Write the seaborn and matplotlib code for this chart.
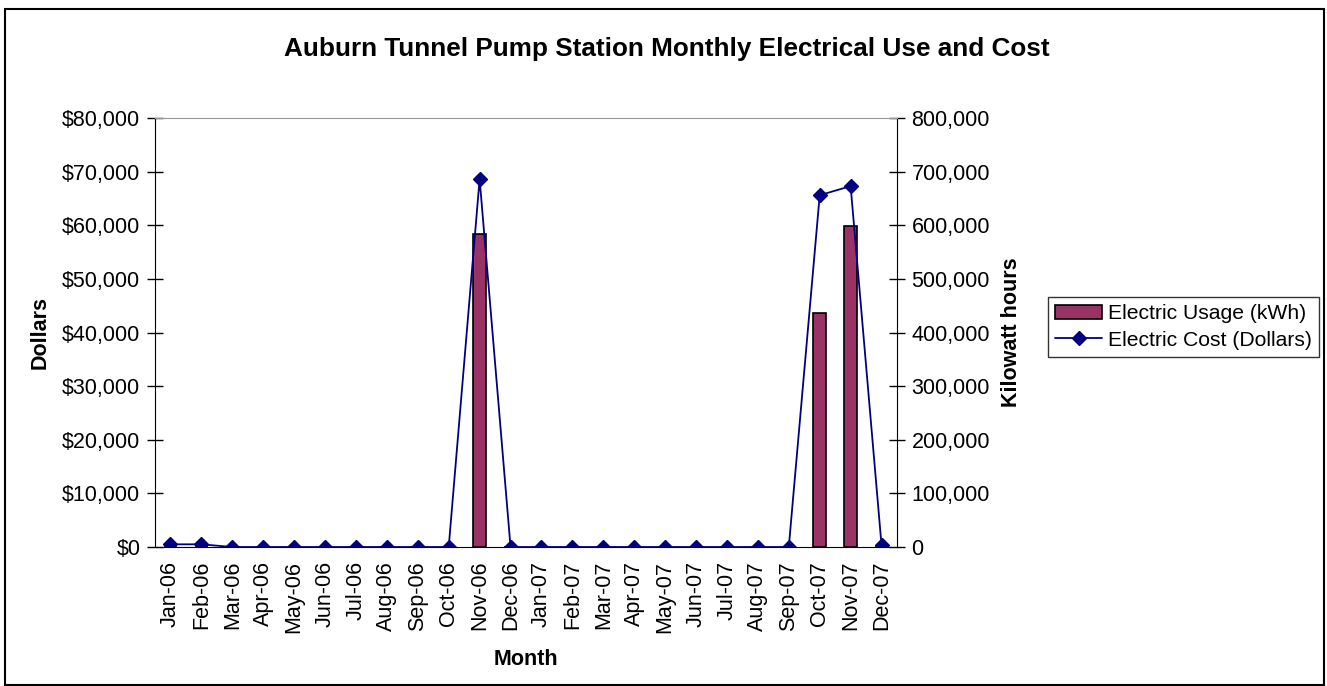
import matplotlib
matplotlib.use('Agg')
import matplotlib.pyplot as plt
import seaborn as sns
from matplotlib.patches import Rectangle
from matplotlib.ticker import FuncFormatter, MultipleLocator

months = ['Jan-06', 'Feb-06', 'Mar-06', 'Apr-06', 'May-06', 'Jun-06', 'Jul-06', 'Aug-06',
          'Sep-06', 'Oct-06', 'Nov-06', 'Dec-06', 'Jan-07', 'Feb-07', 'Mar-07', 'Apr-07',
          'May-07', 'Jun-07', 'Jul-07', 'Aug-07', 'Sep-07', 'Oct-07', 'Nov-07', 'Dec-07']
usage_kwh = [0, 0, 0, 0, 0, 0, 0, 0, 0, 0, 584000, 0,
             0, 0, 0, 0, 0, 0, 0, 0, 0, 437000, 598000, 0]
cost_dollars = [500, 500, 0, 0, 0, 0, 0, 0, 0, 0, 68600, 0,
                0, 0, 0, 0, 0, 0, 0, 0, 0, 65600, 67300, 300]

sns.set_style('white')
plt.rcParams['font.family'] = ['Liberation Sans', 'DejaVu Sans']
plt.rcParams.update({'text.color': 'black', 'axes.labelcolor': 'black',
                     'xtick.color': 'black', 'ytick.color': 'black'})

fs = 15.5
fig = plt.figure(figsize=(13.27, 6.86), dpi=100)
fig.subplots_adjust(left=155/1327, right=897/1327, top=1-118/686, bottom=1-547/686)
ax = fig.add_subplot(111)
ax2 = ax.twinx()

# bars (kWh) on the right axis
sns.barplot(x=months, y=usage_kwh, ax=ax2, color='#993366', saturation=1,
            width=0.42, edgecolor='black', linewidth=1.2, label='Electric Usage (kWh)')
# line (dollars) on the left axis, drawn above the bars
sns.pointplot(x=months, y=cost_dollars, ax=ax, color='#000080', markers='D',
              linewidth=1.3, markersize=7, label='Electric Cost (Dollars)')
ax.set_zorder(ax2.get_zorder() + 1)
ax.patch.set_visible(False)

ax.set_xlim(-0.5, len(months) - 0.5)
ax.set_ylim(0, 80000)
ax2.set_ylim(0, 800000)
ax.yaxis.set_major_locator(MultipleLocator(10000))
ax2.yaxis.set_major_locator(MultipleLocator(100000))
ax.yaxis.set_major_formatter(FuncFormatter(lambda v, p: f'${v:,.0f}'))
ax2.yaxis.set_major_formatter(FuncFormatter(lambda v, p: f'{v:,.0f}'))

for a in (ax, ax2):
    for side in a.spines.values():
        side.set_visible(False)
for s in ('left', 'bottom', 'right'):
    ax.spines[s].set_visible(True)
    ax.spines[s].set_color('black')
ax.spines['top'].set_visible(True)
ax.spines['top'].set_color('#999999')

ax.set_xticks(range(len(months)))
ax.set_xticklabels(months, rotation=90, fontsize=fs)
ax.set_xticks([i - 0.5 for i in range(len(months) + 1)], minor=True)
ax.tick_params(axis='x', which='major', length=0, pad=10)
ax.tick_params(axis='x', which='minor', length=9, direction='inout', width=1, color='black')
ax.tick_params(axis='y', length=11, direction='inout', width=1, labelsize=fs, color='black',
               left=True, pad=5)
ax2.tick_params(axis='y', length=11, direction='inout', width=1, labelsize=fs, color='black',
                right=True, pad=5)
ax2.tick_params(axis='x', length=0)

ax.set_xlabel('Month', fontsize=fs, fontweight='bold', labelpad=12)
ax.set_ylabel('Dollars', fontsize=fs, fontweight='bold', labelpad=8)
ax2.set_ylabel('Kilowatt hours', fontsize=fs, fontweight='bold', labelpad=8)
ax.grid(False)
ax2.grid(False)

fig.suptitle('Auburn Tunnel Pump Station Monthly Electrical Use and Cost',
             fontsize=18.8, fontweight='bold', x=667/1327, y=1-49/686, va='center')

h1, l1 = ax2.get_legend_handles_labels()
h2, l2 = ax.get_legend_handles_labels()
for a in (ax, ax2):
    if a.get_legend() is not None:
        a.get_legend().remove()
leg = fig.legend(h1 + h2, l1 + l2, loc='upper left', bbox_to_anchor=(1048/1327, 1-297/686),
                 fontsize=15.2, frameon=True, fancybox=False, handlelength=2.2,
                 borderpad=0.35, labelspacing=0.35, handletextpad=0.3, borderaxespad=0)
leg.get_frame().set_edgecolor('black')
leg.get_frame().set_linewidth(1)

fig.patches.append(Rectangle((5/1327, 1/686), 1319/1327, 676/686, transform=fig.transFigure,
                             fill=False, edgecolor='black', linewidth=1.5))

fig.savefig('out.png', dpi=100)
